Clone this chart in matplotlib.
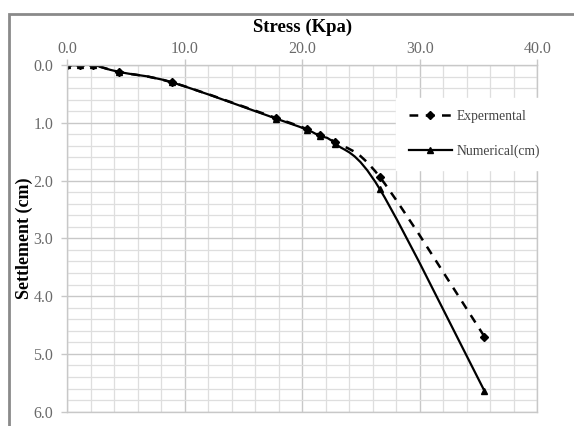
import matplotlib
matplotlib.use("Agg")
import matplotlib.pyplot as plt
import numpy as np
from matplotlib.path import Path
from matplotlib.patches import PathPatch, Rectangle
from matplotlib.lines import Line2D
from matplotlib.ticker import MultipleLocator

plt.rcParams['font.family'] = ['Liberation Serif', 'DejaVu Serif']

# load test readings
exp_stress = [0.0, 1.1, 2.2, 4.4, 8.9, 17.8, 20.4, 21.5, 22.8, 26.6, 35.5]
exp_settle = [0.0, 0.0, 0.0, 0.12, 0.30, 0.92, 1.11, 1.22, 1.34, 1.94, 4.70]

num_stress = [0.0, 1.1, 2.2, 4.4, 8.9, 17.8, 20.4, 21.5, 22.8, 26.6, 35.5]
num_settle = [0.0, 0.0, 0.0, 0.12, 0.30, 0.93, 1.12, 1.23, 1.36, 2.15, 5.64]

x_ticks = [0.0, 10.0, 20.0, 30.0, 40.0]
y_ticks = [0.0, 1.0, 2.0, 3.0, 4.0, 5.0, 6.0]

W, H = 574, 426


def smooth_path(xs, ys):
    """Bezier path through the points, same idea as a spreadsheet 'smoothed line'."""
    p = np.column_stack([xs, ys]).astype(float)
    n = len(p)
    verts = [p[0]]
    codes = [Path.MOVETO]
    for i in range(n - 1):
        p0 = p[i - 1] if i > 0 else p[i]
        p3 = p[i + 2] if i + 2 < n else p[i + 1]
        c1 = p[i] + (p[i + 1] - p0) / 6.0
        c2 = p[i + 1] - (p3 - p[i]) / 6.0
        verts += [c1, c2, p[i + 1]]
        codes += [Path.CURVE4] * 3
    return Path(verts, codes)


fig = plt.figure(figsize=(W / 100, H / 100), dpi=100)
ax = fig.add_axes([67.3 / W, 1 - 411.7 / H, 470 / W, 346.7 / H])

ax.set_xlim(0, 40)
ax.set_ylim(6, 0)
ax.xaxis.tick_top()
ax.xaxis.set_label_position('top')
ax.set_xticks(x_ticks)
ax.set_yticks(y_ticks)
ax.set_xticklabels(['%.1f' % v for v in x_ticks])
ax.set_yticklabels(['%.1f' % v for v in y_ticks])
ax.xaxis.set_minor_locator(MultipleLocator(2.0))
ax.yaxis.set_minor_locator(MultipleLocator(0.2))

ax.grid(which='major', color='#c8c8c8', linewidth=1.0)
ax.grid(which='minor', color='#dedede', linewidth=0.9)
ax.set_axisbelow(True)
for s in ax.spines.values():
    s.set_color('#c8c8c8')
    s.set_linewidth(1.0)

ax.tick_params(which='major', length=4, width=1, color='#c8c8c8',
               labelsize=11.5, labelcolor='#6a6a6a')
ax.tick_params(axis='x', pad=1.6)
ax.tick_params(axis='y', pad=6)
ax.tick_params(which='minor', length=0)

ax.set_xlabel('Stress (Kpa)', fontsize=13.5, fontweight='bold', labelpad=7)
ax.set_ylabel('Settlement (cm)', fontsize=13, fontweight='bold')
ax.yaxis.set_label_coords(-0.074, 0.5)

# smoothed curves
ax.add_patch(PathPatch(smooth_path(exp_stress, exp_settle), facecolor='none',
                       edgecolor='black', linewidth=1.8, linestyle=(0, (3.5, 3))))
ax.add_patch(PathPatch(smooth_path(num_stress, num_settle), facecolor='none',
                       edgecolor='black', linewidth=1.6))
ax.plot(exp_stress, exp_settle, linestyle='none', marker='D', markersize=4.5,
        color='black')
ax.plot(num_stress, num_settle, linestyle='none', marker='^', markersize=5,
        color='black')

handles = [
    Line2D([], [], color='black', linewidth=1.8, linestyle=(0, (3.5, 3)),
           marker='D', markersize=4.5),
    Line2D([], [], color='black', linewidth=1.6, marker='^', markersize=5),
]
leg = ax.legend(handles, ['Expermental', 'Numerical(cm)'], loc='upper left',
                bbox_to_anchor=(0.70, 0.905), fontsize=9.8, handlelength=3.2,
                handletextpad=0.3, labelspacing=1.55, borderpad=0.9,
                frameon=True, fancybox=False, borderaxespad=0)
leg.get_frame().set_facecolor('white')
leg.get_frame().set_edgecolor('white')
leg.get_frame().set_alpha(1.0)
for t in leg.get_texts():
    t.set_color('#444444')

# outer chart frame
fig.patches.append(Rectangle((9 / W, -0.1), 1.0, 1 - 14 / H + 0.1,
                             transform=fig.transFigure, fill=False,
                             edgecolor='#8a8a8a', linewidth=2.0))

fig.savefig('out.png', dpi=100)
